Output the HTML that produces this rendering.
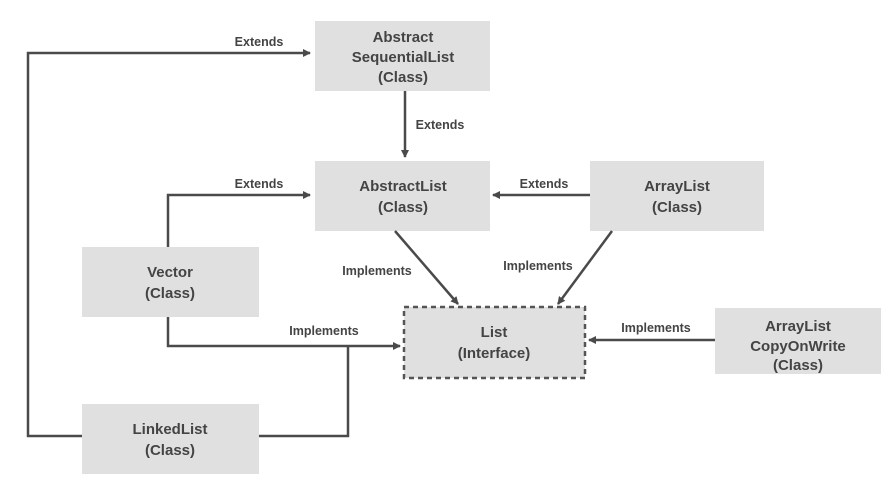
<!DOCTYPE html>
<html><head><style>
body{margin:0;background:#fff;}
svg text{font-family:"Liberation Sans",sans-serif;font-weight:bold;fill:#444;}
</style></head><body>
<svg width="894" height="491" xmlns="http://www.w3.org/2000/svg">
<defs><marker id="a" markerWidth="8" markerHeight="8" refX="7" refY="4" orient="auto" markerUnits="userSpaceOnUse"><path d="M0,0 L8,4 L0,8 Z" fill="#4a4a4a"/></marker></defs>
<g fill="#e0e0e0">
<rect x="315" y="21" width="175" height="70"/>
<rect x="315" y="161" width="175" height="70"/>
<rect x="590" y="161" width="174" height="70"/>
<rect x="82" y="247" width="177" height="70"/>
<rect x="404" y="307" width="181" height="71" stroke="#555" stroke-width="2.5" stroke-dasharray="5,4"/>
<rect x="715" y="308" width="166" height="66"/>
<rect x="82" y="404" width="177" height="70"/>
</g>
<g stroke="#4a4a4a" stroke-width="2.5" fill="none">
<polyline points="82,436 28,436 28,53 310,53" marker-end="url(#a)"/>
<polyline points="168,247 168,195 310,195" marker-end="url(#a)"/>
<polyline points="168,317 168,346 400,346" marker-end="url(#a)"/>
<polyline points="259,436 348,436 348,346"/>
<line x1="405" y1="91" x2="405" y2="157" marker-end="url(#a)"/>
<line x1="590" y1="195" x2="493" y2="195" marker-end="url(#a)"/>
<line x1="395" y1="231" x2="458" y2="304" marker-end="url(#a)"/>
<line x1="612" y1="231" x2="558" y2="304" marker-end="url(#a)"/>
<line x1="715" y1="340" x2="589" y2="340" marker-end="url(#a)"/>
</g>
<g font-size="12.5" text-anchor="middle">
<text x="259" y="46">Extends</text>
<text x="259" y="188">Extends</text>
<text x="440" y="129">Extends</text>
<text x="544" y="188">Extends</text>
<text x="377" y="275">Implements</text>
<text x="538" y="270">Implements</text>
<text x="324" y="335">Implements</text>
<text x="656" y="332">Implements</text>
</g>
<g font-size="15" text-anchor="middle">
<text x="403" y="42">Abstract</text><text x="403" y="62">SequentialList</text><text x="403" y="82">(Class)</text>
<text x="403" y="191">AbstractList</text><text x="403" y="212">(Class)</text>
<text x="677" y="191">ArrayList</text><text x="677" y="212">(Class)</text>
<text x="170" y="277">Vector</text><text x="170" y="298">(Class)</text>
<text x="494" y="337">List</text><text x="494" y="358">(Interface)</text>
<text x="798" y="331">ArrayList</text><text x="798" y="351">CopyOnWrite</text><text x="798" y="370">(Class)</text>
<text x="170" y="434">LinkedList</text><text x="170" y="455">(Class)</text>
</g>
</svg>
</body></html>
